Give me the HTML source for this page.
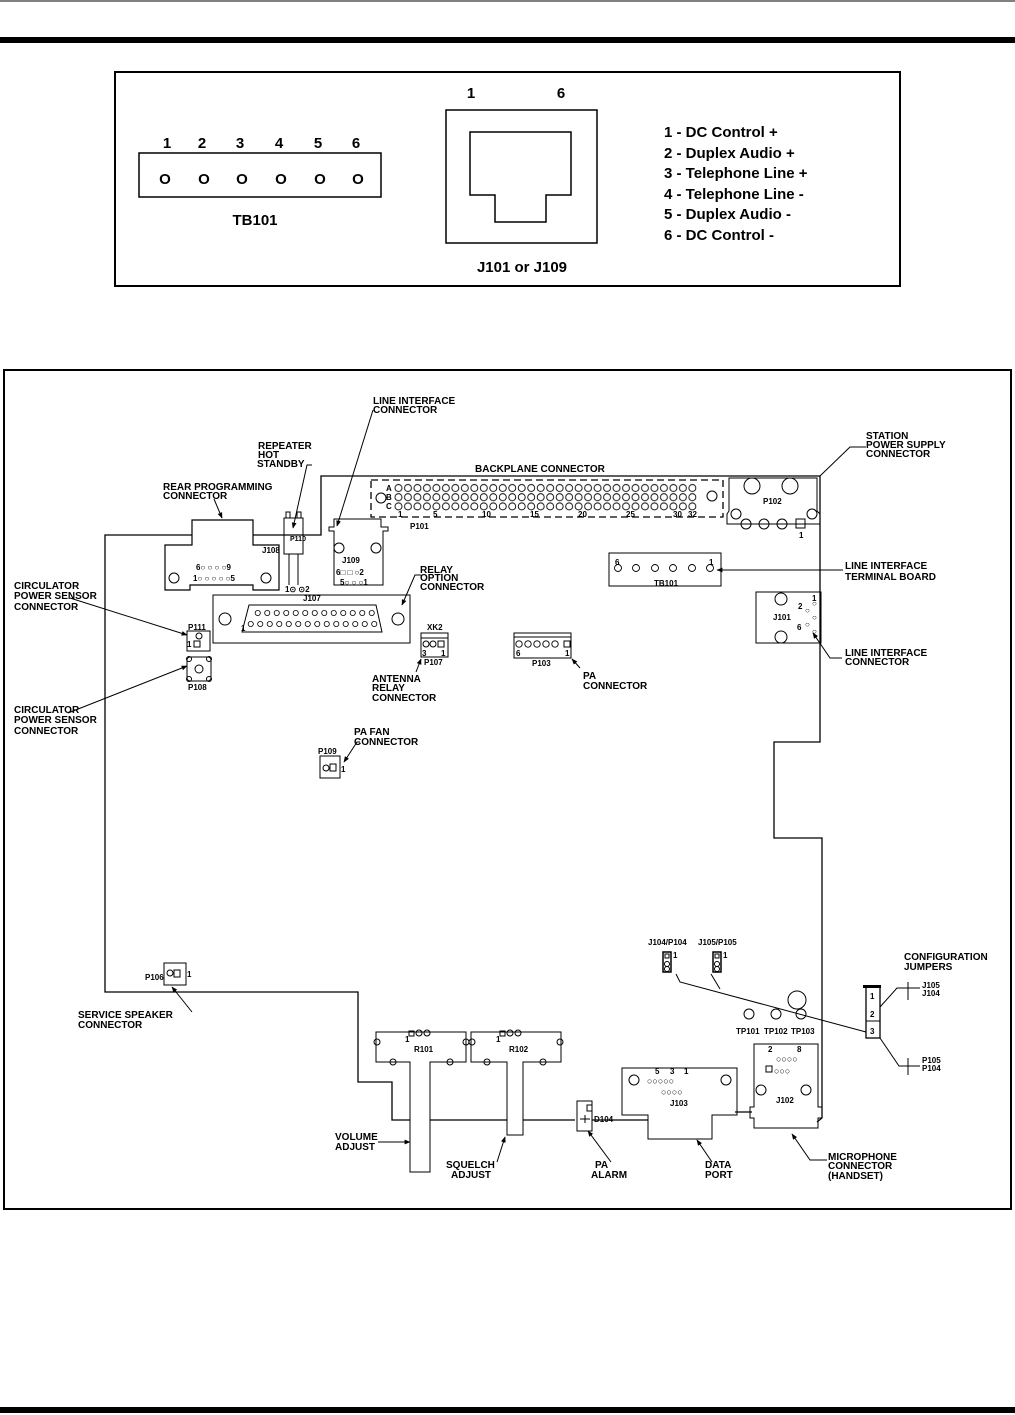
<!DOCTYPE html>
<html><head><meta charset="utf-8"><style>
html,body{margin:0;padding:0;background:#fff}
svg{display:block}
text{font-family:"Liberation Sans",Arial,sans-serif;fill:#000}
.l{font-size:10px;font-weight:bold}
.s{font-size:8px;font-weight:bold}
.b{font-size:15px;font-weight:bold}
</style></head><body>
<svg width="1015" height="1415" viewBox="0 0 1015 1415" xmlns="http://www.w3.org/2000/svg">
<defs>
<marker id="a" viewBox="0 0 10 10" refX="9" refY="5" markerWidth="6" markerHeight="6" orient="auto"><path d="M0,1 L10,5 L0,9z" fill="#000"/></marker>
<pattern id="p101" x="393.75" y="483.4" width="9.48" height="9.2" patternUnits="userSpaceOnUse">
<circle cx="4.74" cy="4.6" r="3.5" fill="none" stroke="#000" stroke-width="0.9"/></pattern>
<pattern id="pj" x="253" y="607" width="9.5" height="12" patternUnits="userSpaceOnUse">
<circle cx="4.75" cy="6" r="2.6" fill="none" stroke="#000" stroke-width="0.8"/></pattern>
<pattern id="pj2" x="246" y="618" width="9.5" height="12" patternUnits="userSpaceOnUse">
<circle cx="4.75" cy="6" r="2.6" fill="none" stroke="#000" stroke-width="0.8"/></pattern>
</defs>
<g fill="none" stroke="#000">
<line x1="0" y1="1" x2="1015" y2="1" stroke-width="1"/>
<rect x="0" y="37" width="1015" height="6" fill="#000" stroke="none"/>
<rect x="0" y="1407" width="1015" height="6" fill="#000" stroke="none"/>
<rect x="115" y="72" width="785" height="214" stroke-width="2"/>
<rect x="139" y="153" width="242" height="44" stroke-width="1.5"/>
<rect x="446" y="110" width="151" height="133" stroke-width="1.5"/>
<path d="M470,132 H571 V195 H546 V222 H495 V195 H470 Z" stroke-width="1.5"/>
<rect x="4" y="370" width="1007" height="839" stroke-width="2"/>
<path d="M105,982 V535 H192 M253,535 H321 V476 H820 V742 H774 V838 H822 V1118 L817,1122" stroke-width="1.3"/>
<path d="M105,982 V992 H358 V1082 H392 V1120 H410 M430,1120 H507 M523,1120 H575 M592,1120 H648 M735,1112 H752" stroke-width="1.3"/>
<path d="M192,545 V520 H253 V545 H279 V590 H253 V585 H190 V590 H165 V545 Z" stroke-width="1.2"/>
<circle cx="174" cy="578" r="5"/><circle cx="266" cy="578" r="5"/>
<rect x="284" y="518" width="19" height="36"/><rect x="286" y="512" width="4" height="6"/><rect x="297" y="512" width="4" height="6"/>
<line x1="289" y1="554" x2="289" y2="585"/><line x1="298" y1="554" x2="298" y2="585"/>
<path d="M334,531 H329 V527 H334 V519 H381 V527 H388 V531 H383 V585 H334 Z"/>
<circle cx="339" cy="548" r="5"/><circle cx="376" cy="548" r="5"/>
<rect x="371" y="480" width="352" height="37" stroke-dasharray="7,4" stroke-width="1.3"/>
<circle cx="381" cy="498" r="5"/><circle cx="712" cy="496" r="5"/>
<path d="M729,478 H817 V511 L820,514 V524 H727 V514 L729,511 Z"/>
<circle cx="752" cy="486" r="8"/><circle cx="790" cy="486" r="8"/>
<circle cx="736" cy="514" r="5"/><circle cx="812" cy="514" r="5"/>
<circle cx="746" cy="524" r="5"/><circle cx="764" cy="524" r="5"/><circle cx="782" cy="524" r="5"/>
<rect x="796" y="519" width="9" height="9"/>
<rect x="609" y="553" width="112" height="33"/>
<g stroke-width="0.9"><circle cx="618" cy="568" r="3.5"/><circle cx="636" cy="568" r="3.5"/><circle cx="655" cy="568" r="3.5"/><circle cx="673" cy="568" r="3.5"/><circle cx="692" cy="568" r="3.5"/><circle cx="710" cy="568" r="3.5"/></g>
<rect x="756" y="592" width="65" height="51"/>
<circle cx="781" cy="599" r="6"/><circle cx="781" cy="637" r="6"/>
<rect x="213" y="595" width="197" height="48"/>
<path d="M249,605 H376 L382,632 H242 Z"/>
<circle cx="225" cy="619" r="6"/><circle cx="398" cy="619" r="6"/>
<rect x="187" y="631" width="23" height="20"/><rect x="194" y="641" width="6" height="6"/><circle cx="199" cy="636" r="3"/>
<rect x="187" y="657" width="24" height="24" rx="3"/><circle cx="199" cy="669" r="4"/>
<circle cx="189" cy="659" r="2.5"/><circle cx="209" cy="659" r="2.5"/><circle cx="189" cy="679" r="2.5"/><circle cx="209" cy="679" r="2.5"/>
<rect x="421" y="633" width="27" height="24"/><line x1="421" y1="638" x2="448" y2="638"/>
<circle cx="426" cy="644" r="3"/><circle cx="433" cy="644" r="3"/><rect x="438" y="641" width="6" height="6"/>
<rect x="514" y="633" width="57" height="25"/><line x1="514" y1="637" x2="571" y2="637"/>
<rect x="564" y="641" width="6" height="6"/>
<g stroke-width="0.9"><circle cx="519" cy="644" r="3.2"/><circle cx="528" cy="644" r="3.2"/><circle cx="537" cy="644" r="3.2"/><circle cx="546" cy="644" r="3.2"/><circle cx="555" cy="644" r="3.2"/></g>
<rect x="320" y="756" width="20" height="22"/><circle cx="326" cy="768" r="3"/><rect x="330" y="764" width="6" height="7"/>
<rect x="164" y="963" width="22" height="22"/><circle cx="170" cy="973" r="3"/><rect x="174" y="970" width="6" height="7"/>
<rect x="663" y="952" width="8" height="20" stroke-width="1.5"/><rect x="713" y="952" width="8" height="20" stroke-width="1.5"/>
<circle cx="667" cy="964" r="2.5"/><circle cx="667" cy="969" r="2.5"/><circle cx="717" cy="964" r="2.5"/><circle cx="717" cy="969" r="2.5"/>
<rect x="665" y="954" width="4" height="4"/><rect x="715" y="954" width="4" height="4"/>
<path d="M676,974 L680,982 L866,1032 M711,974 L720,989"/>
<circle cx="797" cy="1000" r="9"/>
<circle cx="749" cy="1014" r="5"/><circle cx="776" cy="1014" r="5"/><circle cx="801" cy="1014" r="5"/>
<rect x="866" y="987" width="14" height="51" stroke-width="1.3"/><line x1="866" y1="1021" x2="880" y2="1021"/>
<path d="M880,1007 L897,988 H920 M908,982 V1000 M880,1038 L899,1066 H920 M908,1058 V1075"/>
<path d="M376,1032 H466 V1062 H430 V1172 H410 V1062 H376 Z"/>
<path d="M471,1032 H561 V1062 H523 V1135 H507 V1062 H471 Z"/>
<circle cx="377" cy="1042" r="3"/><circle cx="466" cy="1042" r="3"/><circle cx="393" cy="1062" r="3"/><circle cx="450" cy="1062" r="3"/>
<circle cx="472" cy="1042" r="3"/><circle cx="560" cy="1042" r="3"/><circle cx="487" cy="1062" r="3"/><circle cx="543" cy="1062" r="3"/>
<rect x="409" y="1031" width="5" height="5"/><circle cx="419" cy="1033" r="3"/><circle cx="427" cy="1033" r="3"/>
<rect x="500" y="1031" width="5" height="5"/><circle cx="510" cy="1033" r="3"/><circle cx="518" cy="1033" r="3"/>
<rect x="577" y="1101" width="15" height="30"/><rect x="587" y="1105" width="5" height="6"/>
<path d="M580,1119 H590 M585,1115 L585,1123"/>
<path d="M622,1068 H737 V1115 H712 V1139 H648 V1115 H622 Z"/>
<circle cx="634" cy="1080" r="5"/><circle cx="726" cy="1080" r="5"/>
<path d="M754,1044 H818 V1107 H822 V1118 H818 V1128 H754 V1118 H750 V1107 H754 Z"/>
<circle cx="761" cy="1090" r="5"/><circle cx="806" cy="1090" r="5"/>
<rect x="766" y="1066" width="6" height="6"/>
</g>
<rect x="393.75" y="483.4" width="303.4" height="27.6" fill="url(#p101)"/>
<rect x="253" y="607" width="123.5" height="12" fill="url(#pj)"/>
<rect x="246" y="618" width="133" height="12" fill="url(#pj2)"/>
<g fill="#000" stroke="none">
<rect x="863" y="985" width="18" height="3"/>
</g>
<g stroke="#000" stroke-width="1" fill="none" marker-end="url(#a)">
<line x1="373" y1="410" x2="337" y2="526"/>
<polyline points="312,465 307,465 293,528"/>
<line x1="214" y1="499" x2="222" y2="518"/>
<line x1="70" y1="598" x2="187" y2="635"/>
<line x1="68" y1="713" x2="187" y2="666"/>
<polyline points="421,575 415,575 402,605"/>
<line x1="416" y1="672" x2="421" y2="659"/>
<line x1="580" y1="668" x2="572" y2="659"/>
<polyline points="360,742 357,742 344,762"/>
<polyline points="866,447 850,447 820,476" marker-end="none"/>
<line x1="843" y1="570" x2="717" y2="570"/>
<polyline points="842,658 830,658 813,633"/>
<line x1="192" y1="1012" x2="172" y2="987"/>
<line x1="378" y1="1142" x2="410" y2="1142"/>
<line x1="497" y1="1162" x2="505" y2="1137"/>
<line x1="611" y1="1162" x2="588" y2="1131"/>
<line x1="712" y1="1162" x2="697" y2="1140"/>
<polyline points="827,1160 810,1160 792,1134"/>
</g>
<g class="b" text-anchor="middle">
<text x="167" y="148">1</text><text x="202" y="148">2</text><text x="240" y="148">3</text><text x="279" y="148">4</text><text x="318" y="148">5</text><text x="356" y="148">6</text>
<text x="165" y="184">O</text><text x="204" y="184">O</text><text x="242" y="184">O</text><text x="281" y="184">O</text><text x="320" y="184">O</text><text x="358" y="184">O</text>
<text x="255" y="225">TB101</text>
<text x="471" y="98">1</text><text x="561" y="98">6</text>
<text x="522" y="272">J101 or J109</text>
</g>
<g class="b">
<text x="664" y="137">1 - DC Control +</text>
<text x="664" y="158">2 - Duplex Audio +</text>
<text x="664" y="178">3 - Telephone Line +</text>
<text x="664" y="199">4 - Telephone Line -</text>
<text x="664" y="219">5 - Duplex Audio -</text>
<text x="664" y="240">6 - DC Control -</text>
</g>
<g class="l">
<text x="373" y="404">LINE INTERFACE</text><text x="373" y="413">CONNECTOR</text>
<text x="258" y="449">REPEATER</text><text x="258" y="458">HOT</text><text x="257" y="467">STANDBY</text>
<text x="163" y="490">REAR PROGRAMMING</text><text x="163" y="499">CONNECTOR</text>
<text x="475" y="472">BACKPLANE CONNECTOR</text>
<text x="866" y="439">STATION</text><text x="866" y="448">POWER SUPPLY</text><text x="866" y="457">CONNECTOR</text>
<text x="845" y="569">LINE INTERFACE</text><text x="845" y="580">TERMINAL BOARD</text>
<text x="845" y="656">LINE INTERFACE</text><text x="845" y="665">CONNECTOR</text>
<text x="14" y="589">CIRCULATOR</text><text x="14" y="599">POWER SENSOR</text><text x="14" y="610">CONNECTOR</text>
<text x="14" y="713">CIRCULATOR</text><text x="14" y="723">POWER SENSOR</text><text x="14" y="734">CONNECTOR</text>
<text x="420" y="573">RELAY</text><text x="420" y="581">OPTION</text><text x="420" y="590">CONNECTOR</text>
<text x="372" y="682">ANTENNA</text><text x="372" y="691">RELAY</text><text x="372" y="701">CONNECTOR</text>
<text x="583" y="679">PA</text><text x="583" y="689">CONNECTOR</text>
<text x="354" y="735">PA FAN</text><text x="354" y="745">CONNECTOR</text>
<text x="78" y="1018">SERVICE SPEAKER</text><text x="78" y="1028">CONNECTOR</text>
<text x="335" y="1140">VOLUME</text><text x="335" y="1150">ADJUST</text>
<text x="446" y="1168">SQUELCH</text><text x="451" y="1178">ADJUST</text>
<text x="595" y="1168">PA</text><text x="591" y="1178">ALARM</text>
<text x="705" y="1168">DATA</text><text x="705" y="1178">PORT</text>
<text x="828" y="1160">MICROPHONE</text><text x="828" y="1169">CONNECTOR</text><text x="828" y="1179">(HANDSET)</text>
<text x="904" y="960">CONFIGURATION</text><text x="904" y="970">JUMPERS</text>
</g>
<g class="s">
<text x="262" y="553">J108</text><text x="290" y="541" font-size="7">P110</text><text x="285" y="592">1⊙ ⊙2</text>
<text x="196" y="570">6○ ○ ○ ○9</text><text x="193" y="581">1○ ○ ○ ○ ○5</text>
<text x="342" y="563">J109</text><text x="336" y="575">6□ □ ○2</text><text x="340" y="585">5○ ○ ○1</text>
<text x="386" y="491">A</text><text x="386" y="500">B</text><text x="386" y="509">C</text>
<text x="398" y="517">1</text><text x="433" y="517">5</text><text x="482" y="517">10</text><text x="530" y="517">15</text><text x="578" y="517">20</text><text x="626" y="517">25</text><text x="673" y="517">30</text><text x="688" y="517">32</text>
<text x="410" y="529">P101</text><text x="763" y="504">P102</text><text x="799" y="538">1</text>
<text x="615" y="565">6</text><text x="709" y="565">1</text>
<text x="654" y="586">TB101</text>
<text x="773" y="620">J101</text><text x="798" y="609">2</text><text x="797" y="630">6</text>
<text x="812" y="601">1</text><text x="805" y="613">○</text><text x="805" y="627">○</text><text x="812" y="606">○</text><text x="812" y="620">○</text><text x="812" y="634">○</text>
<text x="303" y="601">J107</text>
<text x="241" y="631">1</text>
<text x="188" y="630">P111</text><text x="187" y="647">1</text><text x="188" y="690">P108</text>
<text x="427" y="630">XK2</text><text x="422" y="656">3</text><text x="441" y="656">1</text><text x="424" y="665">P107</text>
<text x="516" y="656">6</text><text x="565" y="656">1</text><text x="532" y="666">P103</text>
<text x="318" y="754">P109</text><text x="341" y="772">1</text>
<text x="145" y="980">P106</text><text x="187" y="977">1</text>
<text x="648" y="945">J104/P104</text><text x="698" y="945">J105/P105</text><text x="673" y="958">1</text><text x="723" y="958">1</text>
<text x="736" y="1034">TP101</text><text x="764" y="1034">TP102</text><text x="791" y="1034">TP103</text>
<text x="870" y="999">1</text><text x="870" y="1017">2</text><text x="870" y="1034">3</text>
<text x="922" y="988">J105</text><text x="922" y="996">J104</text>
<text x="922" y="1063">P105</text><text x="922" y="1071">P104</text>
<text x="405" y="1042">1</text><text x="414" y="1052">R101</text>
<text x="496" y="1042">1</text><text x="509" y="1052">R102</text>
<text x="594" y="1122">D104</text>
<text x="655" y="1074">5</text><text x="670" y="1074">3</text><text x="684" y="1074">1</text>
<text x="647" y="1084" font-size="9">○○○○○</text><text x="661" y="1095" font-size="9">○○○○</text><text x="670" y="1106">J103</text>
<text x="768" y="1052">2</text><text x="797" y="1052">8</text>
<text x="776" y="1062" font-size="9">○○○○</text><text x="774" y="1074" font-size="9">○○○</text><text x="776" y="1103">J102</text>
</g>
</svg>
</body></html>
